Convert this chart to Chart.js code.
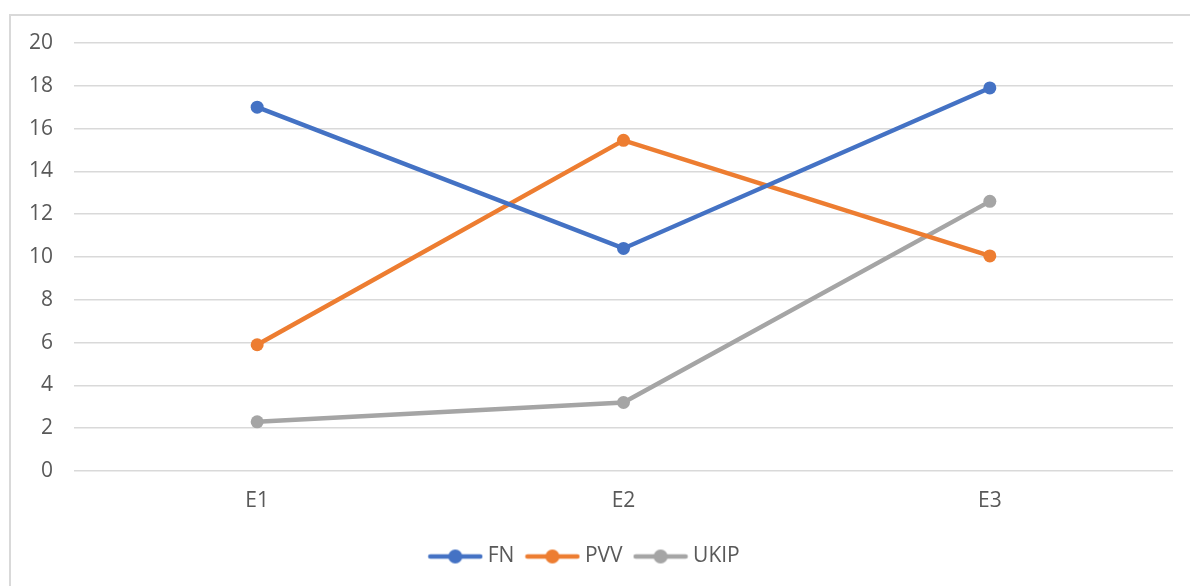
<!DOCTYPE html>
<html>
<head>
<meta charset="utf-8">
<script src="https://cdn.jsdelivr.net/npm/chart.js@4/dist/chart.umd.min.js"></script>
<style>
  html, body { margin: 0; padding: 0; background: #fff; }
  #wrap { position: relative; width: 1190px; height: 586px; overflow: hidden; }
  #frame { position: absolute; left: 9px; top: 14px; width: 1200px; height: 600px;
           border-left: 2px solid #d9d9d9; border-top: 2px solid #d9d9d9; pointer-events: none; }
</style>
</head>
<body>
<div id="wrap">
  <canvas id="chart" width="1190" height="586"></canvas>
  <div id="frame"></div>
</div>
<script>
"use strict";

const categories = ['E1', 'E2', 'E3'];
const fnValues = [17.0, 10.4, 17.9];
const pvvValues = [5.9, 15.45, 10.05];
const ukipValues = [2.3, 3.2, 12.6];

const colors = { FN: '#4472C4', PVV: '#ED7D31', UKIP: '#A5A5A5' };
const textColor = '#595959';
const font = { family: "'Open Sans', 'Noto Sans', sans-serif", size: 21 };

// legend marker: a short line with a dot in the middle
function legendMarker(color) {
  const c = document.createElement('canvas');
  c.width = 56; c.height = 16;
  const ctx = c.getContext('2d');
  ctx.strokeStyle = color;
  ctx.lineWidth = 4.5;
  ctx.lineCap = 'round';
  ctx.beginPath();
  ctx.moveTo(3, 8); ctx.lineTo(53, 8);
  ctx.stroke();
  ctx.fillStyle = color;
  ctx.beginPath();
  ctx.arc(28, 8, 7, 0, Math.PI * 2);
  ctx.fill();
  return c;
}

function series(label, values) {
  return {
    label: label,
    data: values,
    borderColor: colors[label],
    backgroundColor: colors[label],
    borderWidth: 4.5,
    pointRadius: 6.5,
    pointHoverRadius: 6.5,
    pointBorderWidth: 0,
    tension: 0
  };
}

new Chart(document.getElementById('chart'), {
  type: 'line',
  data: {
    labels: categories,
    datasets: [
      series('FN', fnValues),
      series('PVV', pvvValues),
      series('UKIP', ukipValues)
    ]
  },
  options: {
    responsive: false,
    animation: false,
    layout: { padding: { top: 43, right: 17, bottom: 9, left: 0 } },
    plugins: {
      tooltip: { enabled: false },
      legend: {
        position: 'bottom',
        labels: {
          color: textColor,
          font: font,
          usePointStyle: true,
          pointStyleWidth: 44,
          padding: 16,
          generateLabels(chart) {
            return chart.data.datasets.map((ds, i) => ({
              text: ds.label,
              fontColor: textColor,
              pointStyle: legendMarker(ds.borderColor),
              datasetIndex: i,
              hidden: false,
              lineWidth: 0
            }));
          }
        }
      }
    },
    scales: {
      x: {
        offset: true,
        grid: { display: false, drawTicks: false },
        border: { display: false },
        ticks: { color: textColor, font: font, padding: 17 },
        afterFit(scale) { scale.height = 59; }
      },
      y: {
        min: 0,
        max: 20,
        ticks: { stepSize: 2, color: textColor, font: font, padding: 21 },
        grid: { color: '#d9d9d9', lineWidth: 1.5, drawTicks: false },
        border: { display: false },
        afterFit(scale) { scale.width = 74; }
      }
    }
  }
});
</script>
</body>
</html>
